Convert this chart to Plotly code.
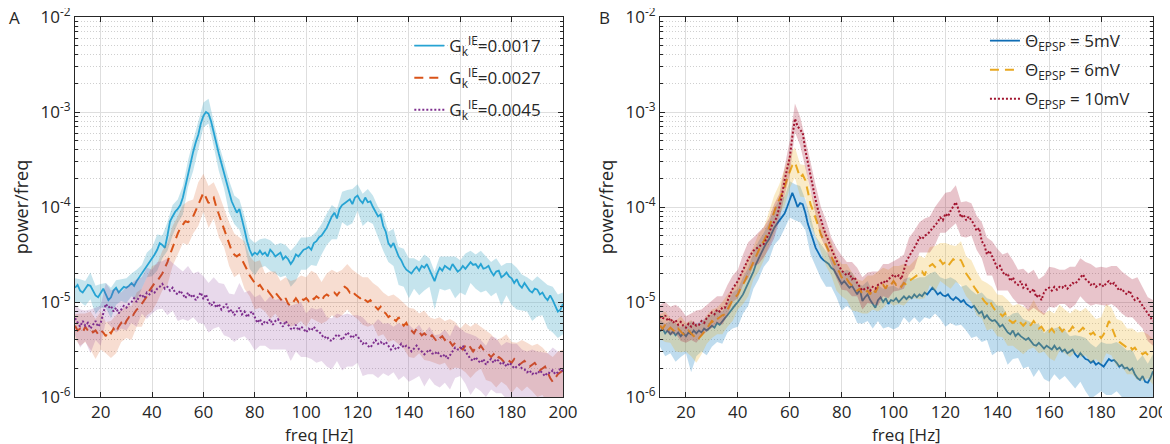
import plotly.graph_objects as go

# frequency axis, 1 Hz steps; shaded bands are sampled every 2 Hz
freq = list(range(10, 201))
band_freq = list(range(10, 201, 2))

# ---- panel A: log10(power/freq) per G_k^IE value ----
a_0017 = [
    -4.85, -4.82, -4.88, -4.90, -4.86, -4.82, -4.83, -4.88, -4.93, -4.95,
    -4.90, -4.86, -4.92, -4.98, -4.95, -4.88, -4.85, -4.90, -4.87, -4.84,
    -4.85, -4.83, -4.80, -4.83, -4.78, -4.74, -4.70, -4.66, -4.62, -4.58,
    -4.55, -4.50, -4.45, -4.38, -4.40, -4.43, -4.30, -4.15, -4.10, -4.05,
    -4.02, -3.98, -3.90, -3.78, -3.65, -3.52, -3.42, -3.32, -3.24, -3.12,
    -3.04, -3.00, -3.02, -3.10, -3.22, -3.33, -3.44, -3.54, -3.64, -3.76,
    -3.86, -3.94, -4.00, -4.06, -4.02, -4.12, -4.24, -4.36, -4.45, -4.51,
    -4.48, -4.50, -4.46, -4.50, -4.48, -4.52, -4.45, -4.48, -4.52, -4.50,
    -4.48, -4.55, -4.52, -4.55, -4.60, -4.56, -4.50, -4.52, -4.48, -4.45,
    -4.44, -4.42, -4.45, -4.38, -4.36, -4.32, -4.30, -4.26, -4.22, -4.16,
    -4.10, -4.06, -4.12, -4.02, -3.98, -3.96, -3.94, -3.92, -3.97, -3.90,
    -3.88, -3.93, -3.96, -3.90, -3.95, -3.94, -4.00, -4.05, -4.10, -4.08,
    -4.20, -4.26, -4.38, -4.42, -4.38, -4.45, -4.52, -4.56, -4.62, -4.66,
    -4.68, -4.70, -4.66, -4.63, -4.67, -4.62, -4.64, -4.60, -4.66, -4.72,
    -4.78, -4.70, -4.64, -4.67, -4.62, -4.64, -4.66, -4.60, -4.64, -4.68,
    -4.66, -4.62, -4.65, -4.62, -4.58, -4.61, -4.60, -4.64, -4.60, -4.65,
    -4.64, -4.62, -4.68, -4.72, -4.68, -4.67, -4.74, -4.72, -4.69, -4.73,
    -4.75, -4.80, -4.76, -4.82, -4.85, -4.80, -4.84, -4.88, -4.90, -4.86,
    -4.87, -4.92, -4.90, -4.95, -4.98, -4.93, -4.98, -5.05, -5.10, -5.08,
    -5.02]
a_0027 = [
    -5.25, -5.30, -5.28, -5.32, -5.26, -5.30, -5.28, -5.32, -5.30, -5.34,
    -5.30, -5.32, -5.36, -5.30, -5.33, -5.28, -5.32, -5.26, -5.22, -5.26,
    -5.20, -5.16, -5.18, -5.12, -5.08, -5.06, -5.02, -4.98, -4.94, -4.88,
    -4.84, -4.80, -4.78, -4.74, -4.70, -4.64, -4.58, -4.50, -4.42, -4.35,
    -4.28, -4.22, -4.18, -4.15, -4.16, -4.14, -4.10, -4.04, -3.98, -3.92,
    -3.85, -3.90, -3.96, -3.92, -3.90, -4.00, -4.08, -4.14, -4.22, -4.30,
    -4.40, -4.46, -4.50, -4.52, -4.50, -4.55, -4.60, -4.66, -4.72, -4.76,
    -4.80, -4.84, -4.82, -4.86, -4.90, -4.88, -4.92, -4.95, -4.90, -4.93,
    -4.96, -5.00, -4.96, -5.02, -5.04, -5.00, -4.96, -5.00, -4.96, -4.98,
    -4.96, -4.99, -4.95, -4.97, -4.94, -4.96, -4.99, -4.94, -4.92, -4.94,
    -4.92, -4.90, -4.93, -4.89, -4.86, -4.84, -4.86, -4.90, -4.88, -4.92,
    -4.94, -4.96, -4.94, -4.98, -5.00, -4.98, -5.02, -5.05, -5.08, -5.05,
    -5.10, -5.12, -5.16, -5.14, -5.18, -5.20, -5.16, -5.22, -5.25, -5.22,
    -5.28, -5.30, -5.33, -5.28, -5.32, -5.35, -5.33, -5.36, -5.38, -5.35,
    -5.38, -5.42, -5.38, -5.36, -5.40, -5.38, -5.42, -5.46, -5.43, -5.45,
    -5.48, -5.50, -5.46, -5.44, -5.48, -5.52, -5.48, -5.50, -5.46, -5.50,
    -5.52, -5.55, -5.58, -5.55, -5.60, -5.58, -5.60, -5.63, -5.60, -5.62,
    -5.64, -5.60, -5.63, -5.66, -5.64, -5.62, -5.65, -5.68, -5.66, -5.64,
    -5.68, -5.72, -5.70, -5.68, -5.74, -5.80, -5.84, -5.80, -5.76, -5.74,
    -5.72]
a_0045 = [
    -5.17, -5.22, -5.26, -5.20, -5.25, -5.22, -5.28, -5.24, -5.20, -5.26,
    -5.22, -5.12, -5.02, -5.06, -5.04, -5.10, -5.06, -5.12, -5.08, -5.04,
    -5.06, -5.02, -5.00, -4.96, -5.00, -4.94, -4.92, -4.96, -4.90, -4.92,
    -4.88, -4.90, -4.86, -4.84, -4.81, -4.86, -4.84, -4.88, -4.85, -4.90,
    -4.92, -4.88, -4.92, -4.96, -4.90, -4.95, -4.92, -4.98, -4.94, -4.90,
    -4.97, -4.92, -5.00, -5.04, -5.00, -5.06, -5.02, -5.08, -5.05, -5.02,
    -5.11, -5.08, -5.14, -5.10, -5.06, -5.13, -5.10, -5.16, -5.12, -5.10,
    -5.17, -5.22, -5.18, -5.24, -5.20, -5.22, -5.18, -5.24, -5.20, -5.18,
    -5.22, -5.26, -5.20, -5.24, -5.28, -5.29, -5.24, -5.30, -5.26, -5.28,
    -5.32, -5.28, -5.30, -5.26, -5.30, -5.31, -5.34, -5.38, -5.36, -5.40,
    -5.41, -5.38, -5.34, -5.36, -5.40, -5.36, -5.32, -5.35, -5.38, -5.34,
    -5.36, -5.40, -5.44, -5.42, -5.46, -5.48, -5.44, -5.40, -5.44, -5.42,
    -5.45, -5.42, -5.46, -5.50, -5.46, -5.50, -5.48, -5.44, -5.48, -5.46,
    -5.48, -5.52, -5.49, -5.46, -5.50, -5.52, -5.55, -5.52, -5.50, -5.54,
    -5.55, -5.52, -5.56, -5.58, -5.55, -5.60, -5.56, -5.52, -5.48, -5.50,
    -5.50, -5.46, -5.52, -5.56, -5.60, -5.62, -5.58, -5.62, -5.64, -5.60,
    -5.66, -5.62, -5.60, -5.64, -5.60, -5.62, -5.66, -5.64, -5.68, -5.64,
    -5.66, -5.70, -5.68, -5.66, -5.70, -5.71, -5.74, -5.72, -5.76, -5.74,
    -5.76, -5.72, -5.75, -5.78, -5.74, -5.75, -5.72, -5.76, -5.74, -5.70,
    -5.73]

# ---- panel B: log10(power/freq) per EPSP threshold ----
b_5mv = [
    -5.31, -5.28, -5.33, -5.30, -5.34, -5.31, -5.35, -5.32, -5.36, -5.33,
    -5.36, -5.32, -5.34, -5.30, -5.33, -5.30, -5.32, -5.28, -5.30, -5.27,
    -5.25, -5.27, -5.22, -5.24, -5.20, -5.17, -5.14, -5.10, -5.06, -5.03,
    -5.00, -4.96, -4.92, -4.86, -4.80, -4.74, -4.68, -4.60, -4.54, -4.48,
    -4.43, -4.38, -4.34, -4.28, -4.22, -4.18, -4.14, -4.10, -4.07, -4.00,
    -3.93, -3.85, -3.92, -4.00, -3.96, -3.97, -4.06, -4.18, -4.26, -4.34,
    -4.43, -4.48, -4.53, -4.56, -4.58, -4.60, -4.64, -4.66, -4.71, -4.76,
    -4.81, -4.78, -4.82, -4.85, -4.83, -4.88, -4.92, -4.86, -4.99, -4.95,
    -4.92, -4.98, -5.02, -5.06, -4.98, -4.95, -5.00, -4.96, -5.02, -4.98,
    -4.99, -4.96, -5.00, -4.97, -4.94, -4.97, -4.94, -4.96, -4.92, -4.95,
    -4.92, -4.94, -4.90, -4.92, -4.88, -4.85, -4.88, -4.92, -4.90, -4.93,
    -4.94, -4.92, -4.96, -4.98, -4.95, -4.97, -5.00, -4.98, -5.02, -5.04,
    -5.06, -5.04, -5.08, -5.12, -5.10, -5.17, -5.14, -5.18, -5.20, -5.19,
    -5.22, -5.26, -5.24, -5.28, -5.32, -5.34, -5.30, -5.36, -5.33, -5.36,
    -5.38, -5.40, -5.38, -5.42, -5.45, -5.46, -5.43, -5.46, -5.49, -5.46,
    -5.48, -5.50, -5.46, -5.50, -5.48, -5.52, -5.50, -5.54, -5.52, -5.50,
    -5.55, -5.58, -5.54, -5.57, -5.60, -5.61, -5.64, -5.62, -5.66, -5.64,
    -5.66, -5.68, -5.64, -5.60, -5.62, -5.61, -5.64, -5.68, -5.66, -5.70,
    -5.69, -5.72, -5.70, -5.76, -5.80, -5.82, -5.78, -5.84, -5.85, -5.80,
    -5.73]
b_6mv = [
    -5.25, -5.28, -5.24, -5.30, -5.27, -5.30, -5.32, -5.28, -5.31, -5.34,
    -5.34, -5.30, -5.33, -5.36, -5.34, -5.38, -5.35, -5.32, -5.28, -5.24,
    -5.20, -5.22, -5.18, -5.16, -5.14, -5.13, -5.08, -5.02, -4.98, -4.95,
    -4.92, -4.86, -4.82, -4.76, -4.70, -4.64, -4.58, -4.52, -4.46, -4.40,
    -4.36, -4.30, -4.22, -4.14, -4.06, -3.97, -3.92, -3.86, -3.79, -3.70,
    -3.62, -3.56, -3.53, -3.60, -3.69, -3.66, -3.72, -3.84, -3.97, -4.04,
    -4.11, -4.20, -4.29, -4.34, -4.40, -4.46, -4.52, -4.58, -4.64, -4.68,
    -4.74, -4.78, -4.76, -4.80, -4.83, -4.85, -4.88, -4.86, -4.92, -4.90,
    -4.88, -4.92, -4.86, -4.90, -4.84, -4.85, -4.82, -4.86, -4.80, -4.82,
    -4.78, -4.82, -4.80, -4.84, -4.80, -4.82, -4.78, -4.76, -4.74, -4.72,
    -4.71, -4.68, -4.72, -4.64, -4.62, -4.60, -4.63, -4.60, -4.56, -4.60,
    -4.58, -4.62, -4.58, -4.55, -4.57, -4.55, -4.56, -4.62, -4.70, -4.74,
    -4.78, -4.84, -4.88, -4.92, -4.95, -4.99, -5.02, -4.98, -5.04, -5.08,
    -5.10, -5.12, -5.15, -5.12, -5.18, -5.20, -5.22, -5.20, -5.24, -5.22,
    -5.25, -5.22, -5.26, -5.24, -5.20, -5.24, -5.28, -5.26, -5.30, -5.28,
    -5.31, -5.28, -5.32, -5.30, -5.27, -5.31, -5.28, -5.32, -5.30, -5.26,
    -5.29, -5.32, -5.30, -5.27, -5.30, -5.31, -5.34, -5.32, -5.36, -5.34,
    -5.38, -5.34, -5.28, -5.20, -5.26, -5.34, -5.40, -5.42, -5.44, -5.46,
    -5.48, -5.46, -5.50, -5.48, -5.52, -5.52, -5.55, -5.53, -5.56, -5.58,
    -5.59]
b_10mv = [
    -5.15, -5.18, -5.14, -5.20, -5.17, -5.22, -5.19, -5.24, -5.21, -5.25,
    -5.27, -5.23, -5.26, -5.22, -5.25, -5.24, -5.20, -5.22, -5.17, -5.14,
    -5.11, -5.13, -5.08, -5.10, -5.06, -5.06, -4.98, -4.92, -4.86, -4.82,
    -4.78, -4.72, -4.66, -4.60, -4.55, -4.50, -4.46, -4.44, -4.42, -4.40,
    -4.39, -4.34, -4.28, -4.20, -4.15, -4.11, -4.00, -3.88, -3.72, -3.60,
    -3.48, -3.26, -3.07, -3.15, -3.19, -3.22, -3.40, -3.54, -3.68, -3.80,
    -3.93, -4.04, -4.14, -4.22, -4.30, -4.36, -4.44, -4.50, -4.57, -4.62,
    -4.67, -4.70, -4.72, -4.70, -4.76, -4.74, -4.80, -4.84, -4.88, -4.86,
    -4.85, -4.88, -4.84, -4.86, -4.82, -4.81, -4.78, -4.80, -4.76, -4.74,
    -4.71, -4.74, -4.72, -4.76, -4.66, -4.57, -4.52, -4.48, -4.43, -4.38,
    -4.32, -4.34, -4.30, -4.29, -4.26, -4.22, -4.20, -4.16, -4.11, -4.14,
    -4.07, -4.10, -4.04, -4.00, -3.95, -4.02, -4.11, -4.08, -4.14, -4.10,
    -4.14, -4.18, -4.25, -4.22, -4.36, -4.40, -4.50, -4.46, -4.52, -4.58,
    -4.64, -4.62, -4.68, -4.72, -4.70, -4.78, -4.74, -4.80, -4.82, -4.78,
    -4.85, -4.82, -4.88, -4.90, -4.86, -4.95, -4.92, -4.98, -4.90, -4.86,
    -4.85, -4.88, -4.84, -4.87, -4.84, -4.85, -4.82, -4.86, -4.83, -4.80,
    -4.81, -4.78, -4.74, -4.71, -4.76, -4.78, -4.82, -4.80, -4.84, -4.82,
    -4.81, -4.84, -4.80, -4.78, -4.82, -4.80, -4.84, -4.88, -4.86, -4.90,
    -4.92, -4.88, -4.94, -4.98, -4.96, -5.00, -5.04, -5.08, -5.13, -5.16,
    -5.20]

# band spread around each curve (hundredths of a decade), above / below
a_0017_up = [10, 12, 8, 14, 10, 9, 12, 10, 8, 11, 10,
             10, 12, 9, 14, 12, 16, 10, 14, 12, 10,
             12, 14, 12, 15, 14, 16, 12, 10, 12, 14,
             12, 10, 14, 12, 10, 12, 15, 10, 12, 10,
             12, 14, 10, 16, 12, 14, 10, 12, 15, 12,
             10, 14, 12, 16, 12, 10, 14, 12, 10, 13,
             12, 15, 10, 18, 14, 12, 10, 14, 12, 10,
             12, 10, 14, 12, 10, 16, 12, 10, 14, 12,
             10, 14, 12, 10, 16, 12, 14, 10, 12, 14,
             12, 16, 14, 18, 12]
a_0017_dn = [15, 12, 18, 14, 20, 16, 14, 22, 18, 12, 16,
             14, 20, 16, 12, 18, 22, 14, 16, 20, 15,
             18, 14, 20, 16, 12, 10, 14, 18, 16, 20,
             18, 22, 16, 20, 24, 18, 14, 22, 18, 26,
             20, 24, 28, 18, 22, 16, 26, 20, 18, 24,
             22, 18, 26, 20, 16, 24, 20, 18, 22, 26,
             20, 24, 30, 22, 28, 20, 26, 24, 18, 30,
             22, 26, 20, 32, 24, 28, 22, 26, 30, 24,
             26, 22, 30, 24, 28, 32, 24, 26, 30, 28,
             24, 30, 34, 28, 32]
a_0027_up = [12, 16, 14, 18, 12, 20, 15, 13, 18, 14, 16,
             14, 18, 16, 20, 22, 18, 24, 20, 22, 18,
             20, 22, 18, 24, 20, 18, 16, 22, 20, 24,
             22, 18, 24, 20, 22, 26, 20, 24, 22, 18,
             22, 26, 20, 24, 22, 28, 24, 20, 22, 26,
             24, 20, 26, 22, 24, 20, 26, 22, 24, 20,
             22, 26, 20, 24, 22, 26, 20, 24, 22, 20,
             22, 20, 24, 22, 20, 24, 22, 26, 20, 22,
             24, 20, 22, 26, 22, 20, 24, 22, 20, 24,
             22, 20, 26, 24, 22]
a_0027_dn = [14, 18, 16, 22, 30, 20, 18, 26, 22, 20, 18,
             22, 18, 24, 20, 26, 22, 18, 24, 20, 22,
             20, 24, 18, 22, 20, 26, 22, 24, 20, 22,
             24, 20, 26, 22, 28, 24, 20, 26, 22, 24,
             26, 22, 28, 24, 30, 22, 26, 24, 28, 22,
             24, 28, 22, 26, 24, 30, 26, 22, 28, 24,
             26, 22, 28, 24, 30, 26, 22, 28, 24, 26,
             28, 24, 30, 26, 22, 28, 32, 26, 24, 30,
             26, 30, 24, 28, 32, 26, 30, 24, 28, 32,
             28, 32, 26, 30, 28]
a_0045_up = [14, 18, 16, 20, 14, 18, 22, 16, 20, 18, 22,
             20, 24, 18, 26, 22, 28, 24, 30, 26, 28,
             24, 28, 22, 26, 24, 20, 26, 22, 24, 20,
             22, 26, 20, 24, 22, 26, 20, 24, 22, 26,
             20, 24, 22, 26, 20, 24, 22, 28, 20, 24,
             22, 26, 20, 24, 22, 28, 24, 20, 26, 22,
             24, 20, 26, 22, 24, 20, 26, 22, 24, 20,
             22, 26, 20, 24, 22, 20, 26, 22, 24, 20,
             24, 22, 20, 26, 22, 24, 20, 22, 26, 24,
             22, 20, 24, 22, 20]
a_0045_dn = [18, 22, 16, 26, 20, 24, 18, 22, 26, 20, 24,
             22, 26, 20, 28, 24, 22, 26, 30, 24, 28,
             26, 30, 24, 28, 26, 32, 28, 24, 30, 26,
             28, 32, 26, 30, 34, 28, 26, 32, 30, 28,
             30, 34, 28, 32, 26, 30, 34, 28, 32, 30,
             28, 32, 36, 30, 28, 34, 30, 32, 36, 30,
             32, 28, 34, 30, 36, 32, 28, 34, 30, 32,
             34, 30, 36, 32, 28, 34, 38, 32, 30, 34,
             32, 36, 30, 34, 38, 32, 30, 36, 34, 32,
             36, 32, 34, 38, 32]
b_5mv_up = [12, 10, 14, 12, 10, 12, 14, 10, 12, 14, 12,
            14, 10, 12, 16, 14, 18, 16, 20, 18, 16,
            18, 20, 22, 18, 20, 16, 18, 14, 16, 12,
            14, 12, 10, 14, 12, 16, 14, 12, 16, 14,
            12, 16, 14, 18, 16, 14, 18, 20, 16, 18,
            16, 18, 20, 16, 18, 22, 18, 16, 20, 18,
            16, 20, 18, 22, 18, 20, 16, 18, 22, 20,
            18, 22, 20, 16, 20, 18, 22, 20, 16, 20,
            18, 22, 20, 18, 24, 20, 18, 22, 20, 18,
            20, 18, 22, 20, 18]
b_5mv_dn = [16, 24, 20, 28, 22, 18, 40, 24, 20, 26, 22,
            20, 24, 18, 22, 26, 20, 24, 18, 22, 20,
            22, 18, 20, 16, 18, 22, 20, 18, 24, 20,
            22, 26, 20, 24, 28, 22, 26, 30, 24, 28,
            26, 22, 28, 24, 30, 26, 22, 28, 24, 30,
            26, 30, 24, 28, 32, 26, 30, 24, 28, 32,
            28, 32, 26, 36, 30, 28, 34, 30, 26, 32,
            30, 34, 28, 32, 36, 30, 34, 28, 32, 36,
            30, 34, 38, 32, 28, 34, 36, 30, 34, 38,
            32, 36, 40, 34, 38]
b_6mv_up = [12, 14, 10, 12, 16, 12, 14, 10, 12, 14, 12,
            12, 14, 16, 12, 14, 16, 18, 16, 18, 14,
            16, 18, 16, 20, 18, 16, 14, 16, 12, 14,
            12, 14, 16, 12, 14, 16, 14, 12, 14, 16,
            14, 16, 18, 14, 16, 18, 20, 16, 18, 20,
            18, 20, 22, 18, 20, 18, 16, 20, 18, 22,
            20, 18, 22, 20, 18, 22, 20, 18, 22, 20,
            18, 22, 20, 18, 22, 20, 24, 20, 18, 22,
            20, 24, 22, 18, 22, 26, 20, 22, 24, 20,
            22, 20, 24, 22, 20]
b_6mv_dn = [14, 18, 16, 20, 22, 18, 24, 30, 20, 16, 18,
            16, 20, 18, 22, 16, 20, 24, 18, 22, 20,
            18, 22, 16, 20, 18, 16, 20, 18, 22, 20,
            18, 22, 20, 24, 20, 22, 26, 22, 20, 24,
            22, 26, 24, 20, 26, 22, 24, 20, 22, 26,
            24, 20, 26, 22, 24, 28, 22, 26, 24, 22,
            26, 22, 28, 24, 26, 22, 28, 24, 26, 30,
            24, 28, 26, 22, 28, 30, 24, 26, 28, 24,
            28, 26, 30, 24, 28, 26, 30, 28, 24, 28,
            26, 30, 28, 24, 28]
b_10mv_up = [12, 14, 12, 16, 14, 12, 14, 16, 12, 14, 12,
             14, 12, 16, 14, 12, 16, 18, 14, 16, 18,
             16, 18, 14, 16, 18, 16, 14, 12, 14, 16,
             14, 16, 12, 14, 16, 14, 18, 16, 14, 16,
             16, 14, 18, 16, 14, 18, 16, 20, 18, 16,
             18, 16, 20, 18, 22, 20, 18, 16, 20, 18,
             16, 20, 18, 16, 20, 18, 22, 18, 16, 20,
             18, 20, 16, 18, 22, 20, 18, 16, 20, 18,
             20, 18, 22, 20, 18, 16, 20, 22, 18, 20,
             18, 22, 20, 18, 22]
b_10mv_dn = [14, 16, 18, 14, 20, 16, 14, 18, 16, 14, 16,
             14, 18, 16, 14, 18, 16, 20, 16, 18, 14,
             16, 18, 14, 16, 18, 14, 16, 18, 14, 16,
             18, 14, 16, 18, 20, 16, 18, 14, 20, 16,
             18, 22, 16, 20, 18, 16, 20, 18, 22, 16,
             18, 22, 20, 16, 20, 18, 22, 20, 18, 16,
             20, 18, 22, 20, 24, 20, 18, 22, 20, 18,
             22, 20, 18, 24, 20, 22, 18, 20, 24, 22,
             20, 24, 22, 18, 22, 24, 20, 22, 26, 24,
             22, 26, 24, 28, 26]

y_tickvals = [1e-6, 1e-5, 1e-4, 1e-3, 1e-2]
y_ticktext = ['10<sup>-6</sup>', '10<sup>-5</sup>', '10<sup>-4</sup>',
              '10<sup>-3</sup>', '10<sup>-2</sup>']
x_tickvals = [20, 40, 60, 80, 100, 120, 140, 160, 180, 200]

FONT = 'Open Sans'
TXT = '#262626'
W, H = 1170, 444


def add_curve(fig, logvals, up, dn, name, color, band, dash, width, xa, ya, legend):
    centre = logvals[::2]
    hi = [10 ** (v + u / 100.0) for v, u in zip(centre, up)]
    lo = [10 ** (v - d / 100.0) for v, d in zip(centre, dn)]
    fig.add_trace(go.Scatter(x=band_freq + band_freq[::-1],
                             y=hi + lo[::-1],
                             fill='toself',
                             fillcolor=band,
                             line=dict(width=0),
                             mode='lines',
                             hoverinfo='skip',
                             showlegend=False,
                             xaxis=xa, yaxis=ya))
    # own legend group per curve so tracegroupgap spaces the entries out
    fig.add_trace(go.Scatter(x=freq,
                             y=[10 ** v for v in logvals],
                             mode='lines',
                             name=name,
                             legendgroup=name,
                             line=dict(color=color, width=width, dash=dash),
                             xaxis=xa, yaxis=ya,
                             legend=legend))


fig = go.Figure()

add_curve(fig, a_0017, a_0017_up, a_0017_dn, 'G<sub>k</sub><sup>IE</sup>=0.0017',
          '#26a3d3', 'rgba(95,180,205,0.36)', 'solid', 1.8, 'x', 'y', 'legend')
add_curve(fig, a_0027, a_0027_up, a_0027_dn, 'G<sub>k</sub><sup>IE</sup>=0.0027',
          '#d95319', 'rgba(217,83,25,0.20)', '9px,6px', 2.0, 'x', 'y', 'legend')
add_curve(fig, a_0045, a_0045_up, a_0045_dn, 'G<sub>k</sub><sup>IE</sup>=0.0045',
          '#7e2f8e', 'rgba(126,47,142,0.18)', '2px,2px', 2.0, 'x', 'y', 'legend')

add_curve(fig, b_5mv, b_5mv_up, b_5mv_dn, '\u0398<sub>EPSP</sub> = 5mV',
          '#0f6db5', 'rgba(0,114,189,0.25)', 'solid', 1.8, 'x2', 'y2', 'legend2')
add_curve(fig, b_6mv, b_6mv_up, b_6mv_dn, '\u0398<sub>EPSP</sub> = 6mV',
          '#e9a820', 'rgba(237,177,32,0.25)', '9px,6px', 2.0, 'x2', 'y2', 'legend2')
add_curve(fig, b_10mv, b_10mv_up, b_10mv_dn, '\u0398<sub>EPSP</sub> = 10mV',
          '#a2142f', 'rgba(162,20,47,0.25)', '2px,2px', 2.0, 'x2', 'y2', 'legend2')

minor_vals = [m * 10 ** e for e in range(-6, -2) for m in range(2, 10)]

xaxis_style = dict(range=[10, 200], tickvals=x_tickvals, ticks='inside', ticklen=5,
                   tickcolor=TXT, showline=True, linecolor=TXT, linewidth=1, mirror='allticks',
                   showgrid=True, gridcolor='#dedede', gridwidth=1, zeroline=False,
                   tickfont=dict(family=FONT, size=17, color=TXT),
                   ticklabeloverflow='allow',
                   automargin=False)
yaxis_style = dict(type='log', range=[-6, -2], tickvals=y_tickvals, ticktext=y_ticktext,
                   ticks='inside', ticklen=5, tickcolor=TXT, showline=True, linecolor=TXT,
                   linewidth=1, mirror='allticks', showgrid=True, gridcolor='#dedede',
                   zeroline=False,
                   minor=dict(tickvals=minor_vals, ticks='inside', ticklen=3, tickcolor=TXT,
                              showgrid=True, gridcolor='#cfcfcf', griddash='1px,2px'),
                   tickfont=dict(family=FONT, size=17, color=TXT),
                   ticklabeloverflow='allow',
                   title=dict(text='power/freq', standoff=7,
                              font=dict(family=FONT, size=18, color=TXT)),
                   automargin=False)

legend_a = dict(bgcolor='rgba(0,0,0,0)', borderwidth=0,
                font=dict(family=FONT, size=17, color=TXT),
                xanchor='left', yanchor='top', tracegroupgap=7)
legend_b = dict(legend_a, tracegroupgap=4)

label_font = dict(family=FONT, size=17, color=TXT)
xtitle_font = dict(family=FONT, size=17, color=TXT)

# the page body adds an 8px offset, so panel positions are placed 8px up/left
fig.update_layout(
    width=W, height=H,
    margin=dict(l=0, r=0, t=0, b=0),
    paper_bgcolor='white', plot_bgcolor='white',
    xaxis=dict(domain=[67 / W, 555 / W], anchor='y', **xaxis_style),
    yaxis=dict(domain=[1 - 389 / H, 1 - 9 / H], anchor='x', **yaxis_style),
    xaxis2=dict(domain=[652 / W, 1145 / W], anchor='y2', **xaxis_style),
    yaxis2=dict(domain=[1 - 389 / H, 1 - 9 / H], anchor='x2', **yaxis_style),
    legend=dict(x=0.343, y=0.955, **legend_a),
    legend2=dict(x=0.835, y=0.966, **legend_b),
    annotations=[
        dict(text='A', x=6 / W, y=1 - 9 / H, xref='paper', yref='paper',
             xanchor='center', yanchor='middle', showarrow=False, font=label_font),
        dict(text='B', x=596 / W, y=1 - 9 / H, xref='paper', yref='paper',
             xanchor='center', yanchor='middle', showarrow=False, font=label_font),
        dict(text='freq [Hz]', x=311 / W, y=1 - 426 / H, xref='paper', yref='paper',
             xanchor='center', yanchor='middle', showarrow=False, font=xtitle_font),
        dict(text='freq [Hz]', x=898 / W, y=1 - 426 / H, xref='paper', yref='paper',
             xanchor='center', yanchor='middle', showarrow=False, font=xtitle_font),
    ],
)

fig.write_html("out.html")
